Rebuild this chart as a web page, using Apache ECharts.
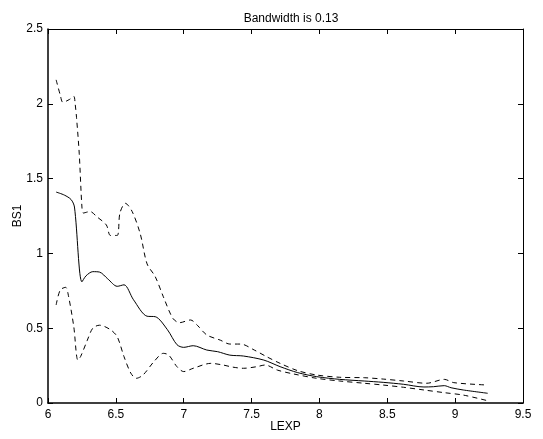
<!DOCTYPE html>
<html><head><meta charset="utf-8">
<script src="https://cdn.jsdelivr.net/npm/echarts@6/dist/echarts.min.js"></script>
<style>html,body{margin:0;padding:0;background:#fff}#c{width:543px;height:439px}</style>
</head><body><div id="c"></div>
<script>
const titleText = 'Bandwidth is 0.13';
const xName = 'LEXP';
const yName = 'BS1';
const xTicks = [6, 6.5, 7, 7.5, 8, 8.5, 9, 9.5];
const yTicks = [0, 0.5, 1, 1.5, 2, 2.5];

const estX = [6.06, 6.12, 6.17, 6.195, 6.25, 6.28, 6.33, 6.38, 6.44, 6.51, 6.56, 6.63, 6.73, 6.79, 6.88, 6.95, 7.0, 7.07, 7.17, 7.25, 7.34, 7.44, 7.59, 7.71, 7.84, 7.98, 8.15, 8.33, 8.47, 8.62, 8.77, 8.84, 8.92, 8.97, 9.06, 9.24];
const estY = [1.41, 1.39, 1.36, 1.31, 0.81, 0.85, 0.878, 0.875, 0.83, 0.78, 0.79, 0.69, 0.58, 0.577, 0.49, 0.39, 0.372, 0.383, 0.354, 0.343, 0.32, 0.314, 0.287, 0.243, 0.203, 0.176, 0.158, 0.147, 0.138, 0.125, 0.107, 0.109, 0.116, 0.102, 0.087, 0.065];

const upX = [6.06, 6.09, 6.11, 6.16, 6.19, 6.20, 6.21, 6.23, 6.25, 6.26, 6.31, 6.36, 6.43, 6.46, 6.51, 6.53, 6.57, 6.62, 6.68, 6.73, 6.79, 6.85, 6.92, 6.97, 7.05, 7.10, 7.17, 7.27, 7.34, 7.42, 7.52, 7.61, 7.71, 7.84, 7.98, 8.15, 8.33, 8.47, 8.62, 8.79, 8.92, 8.99, 9.24];
const upY = [2.16, 2.06, 2.01, 2.03, 2.05, 2.0, 1.91, 1.67, 1.31, 1.27, 1.28, 1.245, 1.19, 1.12, 1.12, 1.27, 1.335, 1.28, 1.13, 0.93, 0.845, 0.71, 0.566, 0.537, 0.555, 0.52, 0.455, 0.42, 0.394, 0.394, 0.354, 0.31, 0.265, 0.216, 0.187, 0.172, 0.169, 0.16, 0.147, 0.132, 0.158, 0.136, 0.12];

const loX = [6.06, 6.09, 6.13, 6.15, 6.19, 6.22, 6.24, 6.29, 6.33, 6.38, 6.46, 6.51, 6.56, 6.61, 6.65, 6.70, 6.78, 6.85, 6.89, 6.95, 7.0, 7.07, 7.20, 7.29, 7.36, 7.44, 7.54, 7.60, 7.69, 7.81, 7.98, 8.15, 8.33, 8.47, 8.62, 8.77, 8.92, 9.06, 9.24];
const loY = [0.655, 0.755, 0.773, 0.72, 0.51, 0.287, 0.31, 0.42, 0.5, 0.52, 0.49, 0.443, 0.31, 0.2, 0.165, 0.187, 0.276, 0.332, 0.32, 0.243, 0.21, 0.232, 0.265, 0.254, 0.24, 0.232, 0.243, 0.254, 0.22, 0.194, 0.165, 0.147, 0.132, 0.12, 0.105, 0.087, 0.069, 0.053, 0.015];

const pairs = (xs, ys) => xs.map((x, i) => [x, ys[i]]);
const font = 'Liberation Sans, Arial, sans-serif';
const axisCommon = {
  axisLine: { show: true, onZero: false, lineStyle: { color: '#000', width: 1 } },
  axisTick: { show: true, inside: true, length: 5, lineStyle: { color: '#000' } },
  splitLine: { show: false },
  axisLabel: { color: '#000', fontSize: 12, fontFamily: font }
};
const chart = echarts.init(document.getElementById('c'));
chart.setOption({
  animation: false,
  backgroundColor: '#fff',
  title: { text: titleText, left: 286, textAlign: 'center', top: 8, textStyle: { fontSize: 12, fontWeight: 'normal', color: '#000', fontFamily: font } },
  grid: { left: 48, right: 20, top: 29, bottom: 36, containLabel: false, outerBoundsMode: 'none' },
  xAxis: [
    Object.assign({}, axisCommon, { type: 'value', min: 6, max: 9.5, interval: 0.5, name: xName, nameLocation: 'middle', nameGap: 18, nameMoveOverlap: false, nameTextStyle: { fontSize: 12, color: '#000', fontFamily: font }, axisLine: { show: true, onZero: false, lineStyle: { color: '#000', width: 1.5 } }, axisLabel: Object.assign({}, axisCommon.axisLabel, { margin: 6 }) }),
    Object.assign({}, axisCommon, { type: 'value', position: 'top', min: 6, max: 9.5, interval: 0.5, axisLabel: { show: false } })
  ],
  yAxis: [
    Object.assign({}, axisCommon, { type: 'value', min: 0, max: 2.5, interval: 0.5, name: yName, nameLocation: 'middle', nameGap: 24, nameMoveOverlap: false, nameTextStyle: { fontSize: 12, color: '#000', fontFamily: font }, axisLine: { show: true, onZero: false, lineStyle: { color: '#000', width: 1.5 } }, axisLabel: Object.assign({}, axisCommon.axisLabel, { margin: 5 }) }),
    Object.assign({}, axisCommon, { type: 'value', position: 'right', min: 0, max: 2.5, interval: 0.5, axisLabel: { show: false } })
  ],
  series: [
    { type: 'line', data: pairs(estX, estY), smooth: 0.3, symbol: 'none', lineStyle: { color: '#000', width: 1 } },
    { type: 'line', data: pairs(upX, upY), smooth: 0.3, symbol: 'none', lineStyle: { color: '#000', width: 1, type: [5, 4] } },
    { type: 'line', data: pairs(loX, loY), smooth: 0.3, symbol: 'none', lineStyle: { color: '#000', width: 1, type: [5, 4] } }
  ]
});
</script></body></html>
